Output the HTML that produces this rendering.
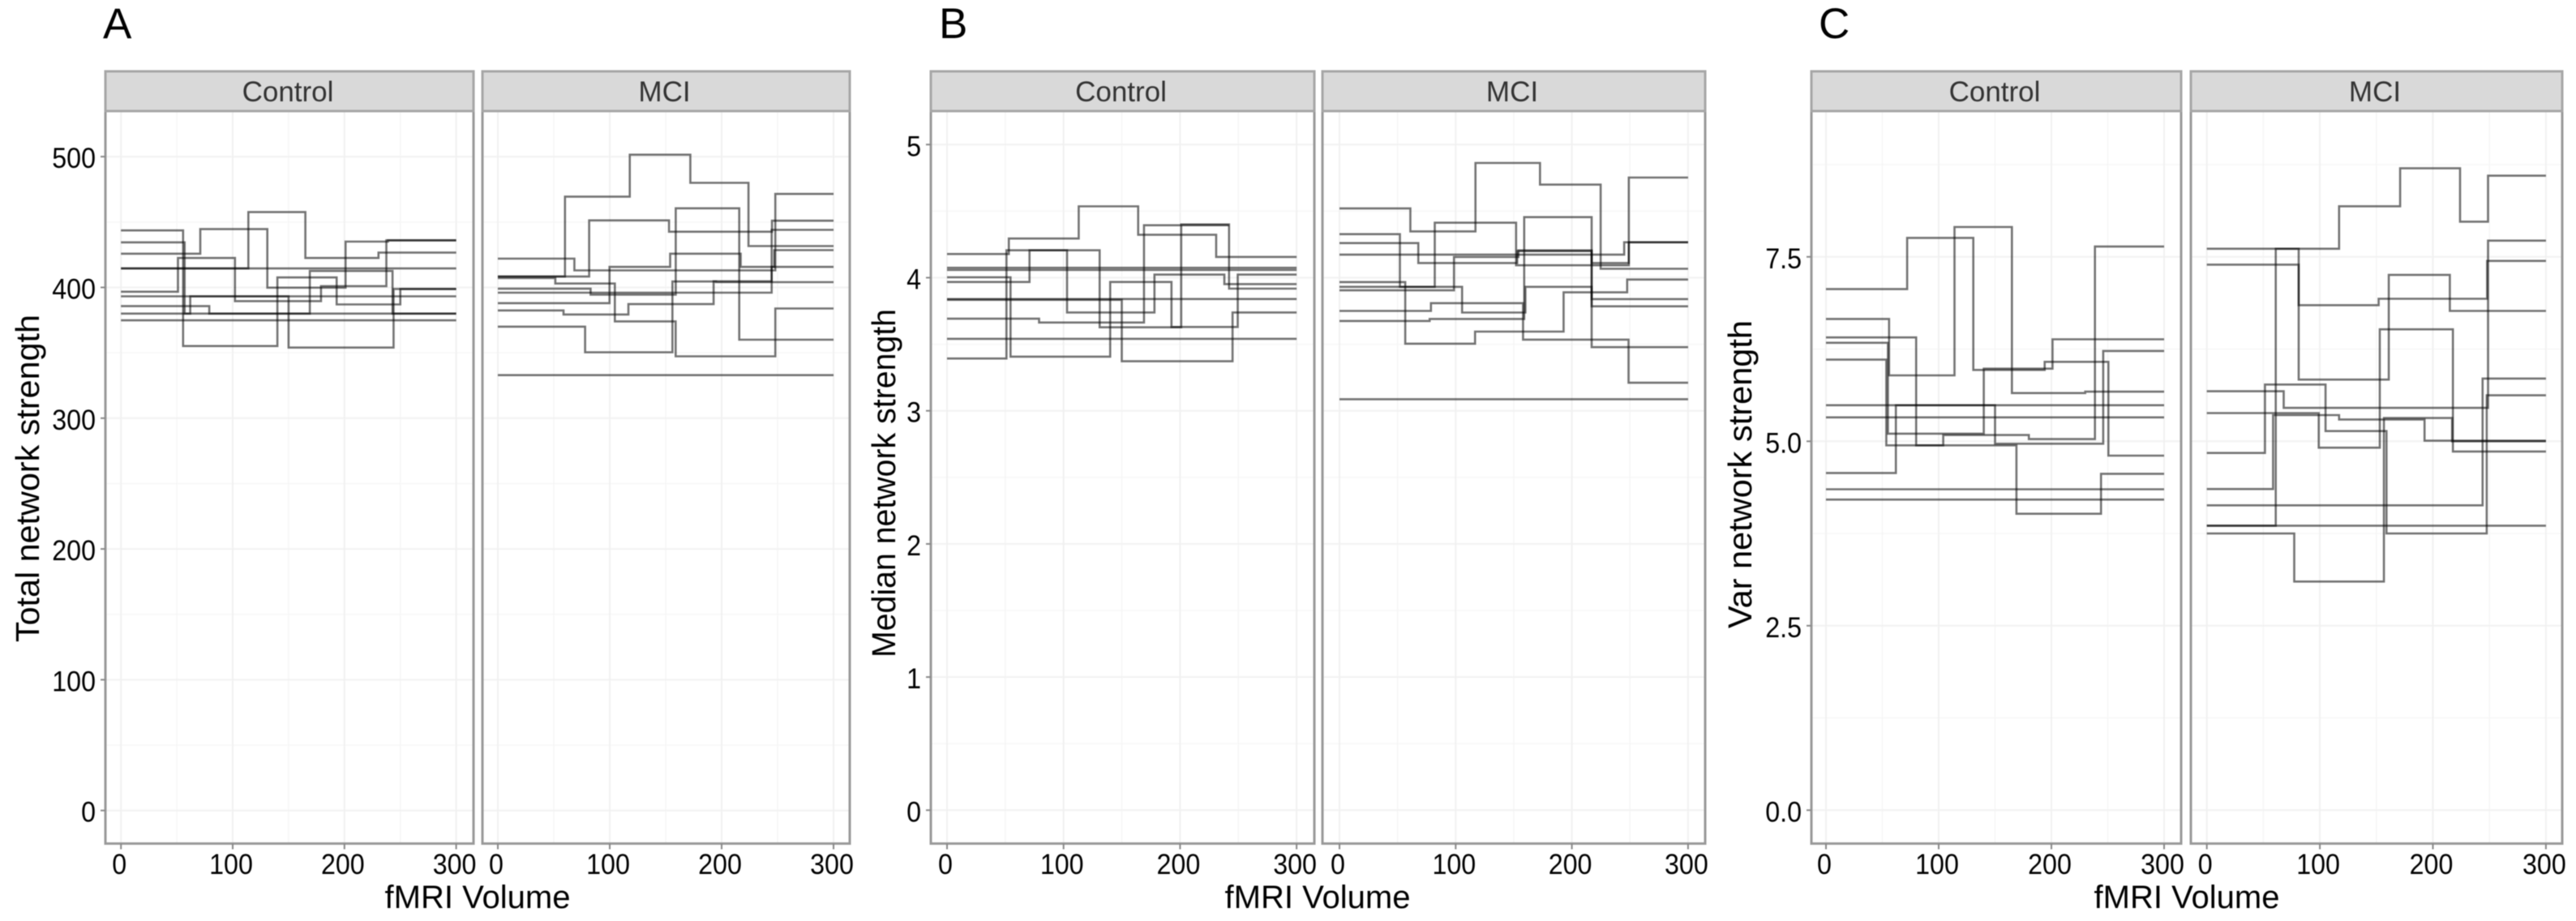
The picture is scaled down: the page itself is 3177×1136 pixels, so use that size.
<!DOCTYPE html>
<html lang="en">
<head>
<meta charset="utf-8">
<title>Network strength over fMRI volume</title>
<style>
html,body{margin:0;padding:0;background:#fff}
svg{display:block;filter:blur(0.5px)}
text{font-family:"Liberation Sans",sans-serif}
</style>
</head>
<body>
<svg id="chart" xmlns="http://www.w3.org/2000/svg" width="3177" height="1136" viewBox="0 0 3177 1136"></svg>
<script>
const facetNames = ['Control', 'MCI'];
const xTicks = [0, 100, 200, 300];
const xMinorTicks = [50, 150, 250];

const aTickLabels = ['0', '100', '200', '300', '400', '500'];
const aTicks = [0, 100, 200, 300, 400, 500];
const aMinorTicks = [50, 150, 250, 350, 450];
const bTickLabels = ['0', '1', '2', '3', '4', '5'];
const bTicks = [0, 1, 2, 3, 4, 5];
const bMinorTicks = [0.5, 1.5, 2.5, 3.5, 4.5];
const cTickLabels = ['0.0', '2.5', '5.0', '7.5'];
const cTicks = [0, 2.5, 5, 7.5];
const cMinorTicks = [1.25, 3.75, 6.25, 8.75];

const aControlBreaks = [[55.6,140,193,250],[57,62,150,244],[71,131,201,239],[],[114,165,230.5],[51,102,179,237.5],[],[79,169,243],[],[]];
const aControlValues = [[443.6,355.2,407.6,387,398.8],[434.5,380,393.2,354,398.8],[425.8,444.6,399.8,435,436],[414.5],[414.5,457.6,422.5,426.6],[396.7,422.5,389.5,401,436],[393.2],[385.7,380,412.6,380],[380],[374.8]];

const aMciBreaks = [[],[78,156,195],[58.7,116.7,192.8,244.7],[99.8,154,217,247],[244.7],[82.9,159,215.7],[60,117.9,172,224],[51.4,104.6,158.9,248],[81.6,153,245],[68.4,248]];
const aMciValues = [[332.9],[370,350.4,404.5,404],[382.4,379.3,387.2,404.7,415.7],[388,415.7,425.8,415.7,428.5],[396,444],[399,394.5,460.5,360],[408.3,469.4,501.5,480,431.6],[407.2,403,374,347.3,383.9],[408.3,451.3,442.6,451],[422,413,471.5]];

const bControlBreaks = [[],[],[],[],[51,131,201,242],[53,113,164,231],[54.5,140,192.6,249.5],[70.8,103,178,238],[150,245],[79,169,242]];
const bControlValues = [[3.541],[4.074],[4.058],[3.84],[3.393,4.206,3.627,4.4,3.918],[4.178,4.294,4.536,4.322,4.156],[4.003,3.407,3.968,3.63,4.023],[3.968,4.206,3.739,4.023,3.952],[3.834,3.372,3.739],[3.692,3.663,4.394]];

const bMciBreaks = [[],[61,117,172.6,224.8],[52,82,152,249],[67.8,153,217],[245],[56.6,116.7,192.9,247.6],[105.5,160,217],[98.5,154,217],[78.7,158,248.8],[77.6,159,217,249]];
const bMciValues = [[3.087],[4.52,4.348,4.862,4.699,4.067],[4.327,3.931,4.413,4.093,4.752],[4.26,4.11,4.2,3.839],[4.173,4.266],[3.967,3.504,3.595,3.89,3.986],[3.931,3.738,3.931,3.785],[3.905,4.155,4.205,3.478],[3.75,3.809,3.535,3.211],[3.675,3.69,4.455,4.11,4.266]];

const cControlBreaks = [[],[],[],[],[72,130.7,194,250.6],[56,114,165,230],[80,104,180,238.6],[55,140,201],[53.5,169,244],[62,150,246]];
const cControlValues = [[4.21],[4.349],[5.324],[5.489],[7.0625,7.757,5.967,6.077,4.805],[6.658,5.893,7.904,5.654,5.673],[6.408,4.945,5.085,5.03,7.64],[6.335,5.103,5.985,6.382],[6.107,4.945,4.018,4.559],[4.57,5.489,4.967,6.224]];

const cMciBreaks = [[117,171,224,248.8],[81.3,152,248],[61,81.3,161,215],[68,248.8],[99,153,217.7],[51.4,105,159,247.6],[58.6,117,192.6],[244],[],[77.3,156.7,217]];
const cMciValues = [[7.61,8.186,8.7,7.977,8.6],[7.394,6.845,6.932,7.445],[3.856,7.61,5.836,7.255,6.767],[5.678,5.453,7.72],[5.382,4.913,6.518,4.862],[4.842,5.769,5.138,3.75,5.623],[4.353,5.355,5.296,5.008],[4.132,5.85],[3.856],[3.75,3.099,5.315,5.0]];

const NS = 'http://www.w3.org/2000/svg';
const svg = document.getElementById('chart');
const STRIP_TOP = 88, STRIP_BOTTOM = 137, PANEL_BOTTOM = 1040.5;

function make(parent, tag, attrs, txt) {
  const el = document.createElementNS(NS, tag);
  for (const k in attrs) el.setAttribute(k, attrs[k]);
  if (txt !== undefined) el.textContent = txt;
  parent.appendChild(el);
  return el;
}
function tickWidth(s, size) {
  let w = 0;
  for (const ch of s) w += (ch === '.' ? 0.278 : 0.556);
  return w * size * 0.92;
}
function stepPath(breaks, values, xScale, yScale) {
  let d = 'M' + xScale(0).toFixed(1) + ' ' + yScale(values[0]).toFixed(1);
  for (let i = 0; i < breaks.length; i++) {
    const px = xScale(breaks[i]).toFixed(1);
    d += 'L' + px + ' ' + yScale(values[i]).toFixed(1);
    d += 'L' + px + ' ' + yScale(values[i + 1]).toFixed(1);
  }
  d += 'L' + xScale(300).toFixed(1) + ' ' + yScale(values[values.length - 1]).toFixed(1);
  return d;
}
function drawPanel(opt) {
  const xScale = v => opt.x0 + opt.kx * v;
  const yScale = v => opt.y0 - opt.ky * v;
  const g = make(svg, 'g', {});
  
  

  const bg = make(g, 'rect', {x: opt.left, y: STRIP_BOTTOM, width: opt.right - opt.left, height: PANEL_BOTTOM - STRIP_BOTTOM, fill: '#fff'});
  
  

  opt.yMinor.forEach(v => {
    const ln = make(g, 'line', {x1: opt.left, x2: opt.right, y1: yScale(v), y2: yScale(v), stroke: '#f7f7f7', 'stroke-width': 1.5});
    
    
  });
  xMinorTicks.forEach(v => {
    const ln = make(g, 'line', {x1: xScale(v), x2: xScale(v), y1: STRIP_BOTTOM, y2: PANEL_BOTTOM, stroke: '#f6f6f6', 'stroke-width': 1.5});
    
    
  });
  opt.yTicks.forEach(v => {
    const ln = make(g, 'line', {x1: opt.left, x2: opt.right, y1: yScale(v), y2: yScale(v), stroke: '#f2f2f2', 'stroke-width': 2});
    
    
  });
  xTicks.forEach(v => {
    const ln = make(g, 'line', {x1: xScale(v), x2: xScale(v), y1: STRIP_BOTTOM, y2: PANEL_BOTTOM, stroke: '#f1f1f1', 'stroke-width': 2});
    
    
  });

  opt.values.forEach((vals, i) => {
    const p = make(g, 'path', {d: stepPath(opt.breaks[i], vals, xScale, yScale), fill: 'none', stroke: '#000', 'stroke-width': 2.6, 'stroke-opacity': 0.55, 'stroke-linejoin': 'miter'});
    
    
  });

  const border = make(g, 'rect', {x: opt.left, y: STRIP_BOTTOM, width: opt.right - opt.left, height: PANEL_BOTTOM - STRIP_BOTTOM, fill: 'none', stroke: '#999', 'stroke-width': 3});
  
  

  const strip = make(g, 'rect', {x: opt.left, y: STRIP_TOP, width: opt.right - opt.left, height: STRIP_BOTTOM - STRIP_TOP, fill: '#d9d9d9', stroke: '#a6a6a6', 'stroke-width': 3});
  
  
  const st = make(g, 'text', {x: (opt.left + opt.right) / 2 - 2, y: 125, 'text-anchor': 'middle', 'font-size': 35, fill: '#333'}, opt.facet);
  
  

  xTicks.forEach(v => {
    const tk = make(g, 'line', {x1: xScale(v), x2: xScale(v), y1: PANEL_BOTTOM, y2: PANEL_BOTTOM + 7, stroke: '#888', 'stroke-width': 2});
    
    
    const s = String(v);
    const t = make(g, 'text', {x: xScale(v) - 2, y: 1078, 'text-anchor': 'middle', 'font-size': 35, fill: '#000', textLength: tickWidth(s, 35), lengthAdjust: 'spacingAndGlyphs'}, s);
    
    
  });

  if (opt.yLabels) {
    opt.yTicks.forEach((v, i) => {
      const tk = make(g, 'line', {x1: opt.left - 6, x2: opt.left, y1: yScale(v), y2: yScale(v), stroke: '#888', 'stroke-width': 2});
      
      
      const s = opt.yLabels[i];
      const t = make(g, 'text', {x: opt.left - 12, y: yScale(v) + 14, 'text-anchor': 'end', 'font-size': 35, fill: '#000', textLength: tickWidth(s, 35), lengthAdjust: 'spacingAndGlyphs'}, s);
      
      
    });
  }
}
function drawTitles(letter, letterX, yTitle, yBase, yCenter, titleLength, xCenter) {
  const l = make(svg, 'text', {x: letterX, y: 47, 'font-size': 53, fill: '#000'}, letter);
  
  
  const y = make(svg, 'text', {transform: 'translate(' + yBase + ' ' + yCenter + ') rotate(-90)', 'text-anchor': 'middle', 'font-size': 41, fill: '#000', textLength: titleLength, lengthAdjust: 'spacingAndGlyphs'}, yTitle);
  
  
  const x = make(svg, 'text', {x: xCenter, y: 1120, 'text-anchor': 'middle', 'font-size': 40, fill: '#000'}, 'fMRI Volume');
  
  
}

drawPanel({name: 'a-control', facet: facetNames[0], left: 130, right: 584, x0: 149.2, kx: 1.378, y0: 999.7, ky: 1.613, yTicks: aTicks, yMinor: aMinorTicks, yLabels: aTickLabels, breaks: aControlBreaks, values: aControlValues});
drawPanel({name: 'a-mci', facet: facetNames[1], left: 595, right: 1048, x0: 614, kx: 1.38, y0: 999.7, ky: 1.613, yTicks: aTicks, yMinor: aMinorTicks, breaks: aMciBreaks, values: aMciValues});
drawPanel({name: 'b-control', facet: facetNames[0], left: 1148, right: 1621, x0: 1168, kx: 1.437, y0: 999.3, ky: 164.2, yTicks: bTicks, yMinor: bMinorTicks, yLabels: bTickLabels, breaks: bControlBreaks, values: bControlValues});
drawPanel({name: 'b-mci', facet: facetNames[1], left: 1631, right: 2103, x0: 1652, kx: 1.433, y0: 999.3, ky: 164.2, yTicks: bTicks, yMinor: bMinorTicks, breaks: bMciBreaks, values: bMciValues});
drawPanel({name: 'c-control', facet: facetNames[0], left: 2234, right: 2690, x0: 2252, kx: 1.39, y0: 999.3, ky: 91, yTicks: cTicks, yMinor: cMinorTicks, yLabels: cTickLabels, breaks: cControlBreaks, values: cControlValues});
drawPanel({name: 'c-mci', facet: facetNames[1], left: 2702, right: 3160, x0: 2721.7, kx: 1.394, y0: 999.3, ky: 91, yTicks: cTicks, yMinor: cMinorTicks, breaks: cMciBreaks, values: cMciValues});

drawTitles('A', 127, 'Total network strength', 48, 590, 404, 589);
drawTitles('B', 1158, 'Median network strength', 1104, 596, 430, 1625);
drawTitles('C', 2243, 'Var network strength', 2160, 585, 380, 2697);
</script>
</body>
</html>
